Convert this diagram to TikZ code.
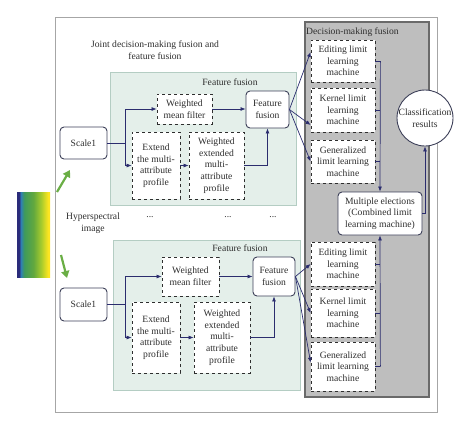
\documentclass[tikz,border=0pt]{standalone}
\usepackage{fontspec}
\setmainfont{Liberation Serif}
\usetikzlibrary{positioning,arrows.meta}

\definecolor{navy}{HTML}{2B2D6E}
\definecolor{boxline}{HTML}{3C3F58}
\definecolor{mint}{HTML}{E4EFEA}
\definecolor{mintline}{HTML}{B4CDC3}
\definecolor{decgray}{HTML}{BEBEBE}
\definecolor{decline}{HTML}{6A6A6A}
\definecolor{txt}{HTML}{2E2E2E}
\definecolor{leaf}{HTML}{6AAE45}
\definecolor{specdark}{HTML}{2A2B7A}
\definecolor{specblue}{HTML}{2F7FB5}
\definecolor{specteal}{HTML}{3E9A5A}
\definecolor{specgreen}{HTML}{62A83E}
\definecolor{speclime}{HTML}{A9CC2C}
\definecolor{specyellow}{HTML}{FCE521}

% the middle half (25bp--75bp) of the shading lands on the path
\pgfdeclarehorizontalshading{spectrum}{100bp}{%
  color(0bp)=(specdark); color(28bp)=(specdark);
  color(31bp)=(specblue); color(36bp)=(specteal);
  color(50bp)=(specgreen); color(62bp)=(speclime);
  color(72bp)=(specyellow); color(100bp)=(specyellow)}

\tikzset{
  dbox/.style={draw=txt, dashed, fill=white, line width=0.8pt, align=center,
    inner sep=1pt},
  rbox/.style={draw=boxline, rounded corners=4pt, fill=white, line width=0.9pt,
    align=center, inner sep=1pt},
  link/.style={draw=navy, line width=0.7pt, -{Latex[length=5pt,width=4pt]}},
  stub/.style={draw=navy, line width=0.7pt},
  lbl/.style={text=txt, align=center, inner sep=0pt},
}

\begin{document}
\begin{tikzpicture}[x=1pt,y=-1pt,font=\fontsize{9.6}{11.6}\selectfont,text=txt]
\useasboundingbox (0,0) rectangle (474,429);

% frames
\draw[gray!70, line width=1pt] (55,17) rectangle (437,412);
\draw[decline, fill=decgray, line width=1.2pt] (305,22) rectangle (429,397);
\draw[mintline, fill=mint, line width=0.8pt] (110,72) rectangle (296,205);
\draw[mintline, fill=mint, line width=0.8pt] (113,240) rectangle (300,390);

% spectral cube
\shade[shading=spectrum] (17,192) rectangle (50,277);

% texts
\node[lbl] (joint) at (155,50) {Joint decision-making fusion and\\feature fusion};
\node[lbl] (ffA-l) at (230,82) {Feature fusion};
\node[lbl] (ffB-l) at (240,248) {Feature fusion};
\node[lbl, anchor=west] (dec-l) at (306,32) {Decision-making fusion};
\node[lbl] (hsi) at (93,223) {Hyperspectral\\image};
\node[lbl] (dot1) at (150,217) {...};
\node[lbl] (dot2) at (228,217) {...};
\node[lbl] (dot3) at (273,217) {...};

% upper branch
\node[rbox, minimum width=47pt, minimum height=32pt] (scaleA) at (83.5,143) {Scale1};
\node[dbox, minimum width=55pt, minimum height=30pt] (wmfA) at (184.5,109) {Weighted\\mean filter};
\node[dbox, minimum width=48pt, minimum height=67pt] (extA) at (156,165.5) {Extend\\the multi-\\attribute\\profile};
\node[dbox, minimum width=55pt, minimum height=67pt] (wextA) at (216.5,165.5) {Weighted\\extended\\multi-\\attribute\\profile};
\node[rbox, minimum width=43pt, minimum height=37pt] (ffA) at (267.5,109.5) {Feature\\fusion};
\node[dbox, minimum width=64pt, minimum height=42pt] (editA) at (343,61) {Editing limit\\learning\\machine};
\node[dbox, minimum width=64pt, minimum height=44pt] (kernA) at (343,110) {Kernel limit\\learning\\machine};
\node[dbox, minimum width=64pt, minimum height=43pt] (genA) at (343,161.5) {Generalized\\limit learning\\machine};

% lower branch
\node[rbox, minimum width=47pt, minimum height=33pt] (scaleB) at (83.5,304.5) {Scale1};
\node[dbox, minimum width=57pt, minimum height=39pt] (wmfB) at (190.5,276.5) {Weighted\\mean filter};
\node[dbox, minimum width=48pt, minimum height=71pt] (extB) at (156,337.5) {Extend\\the multi-\\attribute\\profile};
\node[dbox, minimum width=56pt, minimum height=71pt] (wextB) at (222,337.5) {Weighted\\extended\\multi-\\attribute\\profile};
\node[rbox, minimum width=42pt, minimum height=39pt] (ffB) at (274,276.5) {Feature\\fusion};
\node[dbox, minimum width=64pt, minimum height=44pt] (editB) at (343,264) {Editing limit\\learning\\machine};
\node[dbox, minimum width=64pt, minimum height=48pt] (kernB) at (343,313) {Kernel limit\\learning\\machine};
\node[dbox, minimum width=64pt, minimum height=49pt] (genB) at (343,366.5) {Generalized\\limit learning\\machine};

% decision
\node[rbox, minimum width=84pt, minimum height=43pt] (multi) at (380,213.5) {Multiple elections\\(Combined limit\\learning machine)};
\node[circle, draw=boxline, fill=white, line width=0.9pt, minimum size=56pt,
  align=center, inner sep=0pt] (result) at (425,118) {Classification\\results};

% green arrows
\coordinate (gA0) at (57,192);
\coordinate (gA1) at (70,170);
\coordinate (gB0) at (61,255);
\coordinate (gB1) at (67,278);
\draw[leaf, line width=2.2pt, -{Triangle[length=7pt,width=8pt]}] (gA0) -- (gA1);
\draw[leaf, line width=2.2pt, -{Triangle[length=7pt,width=8pt]}] (gB0) -- (gB1);

% upper connectors
\draw[link] (scaleA.east) -- ++(18,0) |- (wmfA.west);
\draw[link] (scaleA.east) -- ++(18,0) |- (extA.west);
\draw[link] (extA.east) -- (wextA.west);
\draw[link] (wmfA.east) -- (ffA.west |- wmfA.east);
\draw[link] (wextA.east) -| (ffA.south);
\draw[link] (ffA.east) -- ([yshift=9pt]editA.west);
\draw[link] (ffA.east) -- ([yshift=-15pt]kernA.west);
\draw[link] (ffA.east) -- (genA.west);

% lower connectors
\draw[link] (scaleB.east) -- ++(18,0) |- (wmfB.west);
\draw[link] (scaleB.east) -- ++(18,0) |- (extB.west);
\draw[link] (extB.east) -- (wextB.west);
\draw[link] (wmfB.east) -- (ffB.west |- wmfB.east);
\draw[link] (wextB.east) -| (ffB.south);
\draw[link] (ffB.east) -- (editB.west);
\draw[link] (ffB.east) -- (kernB.west);
\draw[link] (ffB.east) -- ([yshift=4pt]genB.west);

% voting
\draw[stub] (editA.east) -- ++(5,0) coordinate (jA);
\draw[stub] (kernA.east) -- ++(5,0);
\draw[stub] (genA.east) -- ++(5,0);
\draw[link] (jA) -- (multi.north);
\draw[stub] (editB.east) -- ++(5,0);
\draw[stub] (kernB.east) -- ++(5,0);
\draw[stub] (genB.east) -- ++(5,0) coordinate (jB);
\draw[link] (jB) -- (multi.south);
\draw[link] (multi.east) -| (result.south);
\end{tikzpicture}
\end{document}
